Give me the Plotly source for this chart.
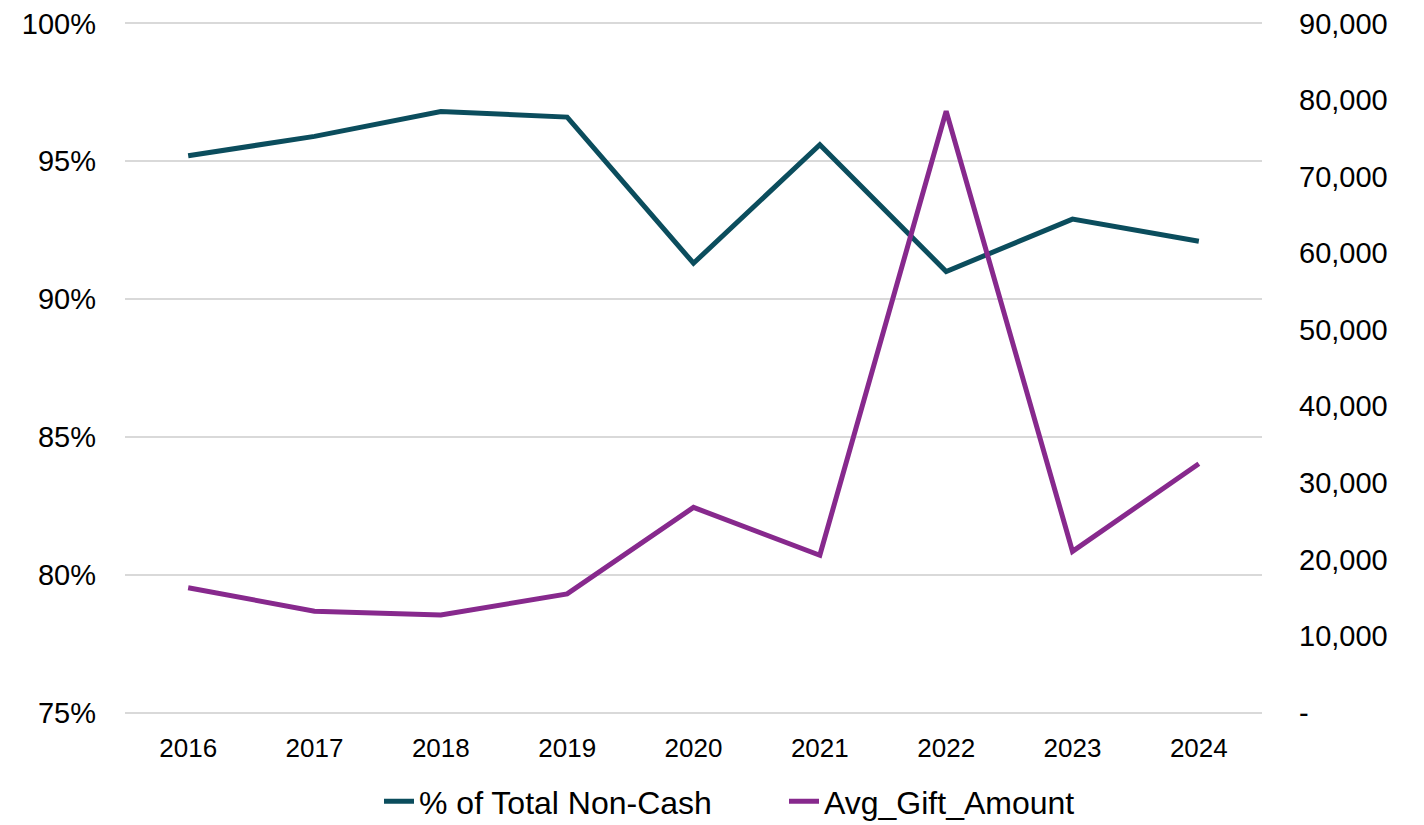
import plotly.graph_objects as go

years = ["2016", "2017", "2018", "2019", "2020", "2021", "2022", "2023", "2024"]
pct_non_cash = [0.952, 0.959, 0.968, 0.966, 0.913, 0.956, 0.910, 0.929, 0.921]
avg_gift = [16300, 13250, 12750, 15500, 26800, 20550, 78550, 21050, 32500]

left_ticks = [0.75, 0.80, 0.85, 0.90, 0.95, 1.00]
left_labels = ["75%", "80%", "85%", "90%", "95%", "100%"]
right_ticks = [0, 10000, 20000, 30000, 40000, 50000, 60000, 70000, 80000, 90000]
right_labels = ["-", "10,000", "20,000", "30,000", "40,000", "50,000", "60,000", "70,000", "80,000", "90,000"]

TEAL = "#0B4D5D"
PURPLE = "#87298D"
FONT = "Liberation Sans, Arial, sans-serif"

pad = 0.002
lo, hi = 0.75, 1.0
r2lo, r2hi = 0, 90000

fig = go.Figure()
fig.add_trace(go.Scatter(x=years, y=pct_non_cash, name="% of Total Non-Cash",
                         mode="lines", line=dict(color=TEAL, width=5), yaxis="y"))
fig.add_trace(go.Scatter(x=years, y=avg_gift, name="Avg_Gift_Amount",
                         mode="lines", line=dict(color=PURPLE, width=5), yaxis="y2"))

fig.update_layout(
    width=1424, height=825,
    margin=dict(l=125, r=162, t=22, b=111, autoexpand=False),
    paper_bgcolor="white", plot_bgcolor="white",
    font=dict(family=FONT, color="black"),
    showlegend=True,
    legend=dict(orientation="h", xref="container", yref="container",
                x=379 / 1424, xanchor="left", y=0.062, yanchor="top",
                font=dict(size=32, family=FONT), itemwidth=30,
                entrywidth=360, entrywidthmode="pixels", traceorder="normal"),
    xaxis=dict(type="category", range=[-0.5, len(years) - 0.5], showgrid=False,
               showline=False, zeroline=False, automargin=False,
               tickfont=dict(size=26), ticks="", ticklabelstandoff=16),
    yaxis=dict(range=[lo - (hi - lo) * pad, hi + (hi - lo) * pad],
               tickvals=left_ticks, ticktext=left_labels, automargin=False,
               showgrid=True, gridcolor="#D9D9D9", gridwidth=1.5, zeroline=False,
               showline=False, tickfont=dict(size=29), ticks="", ticklabelstandoff=28),
    yaxis2=dict(range=[r2lo - (r2hi - r2lo) * pad, r2hi + (r2hi - r2lo) * pad],
                tickvals=right_ticks, ticktext=right_labels, automargin=False,
                overlaying="y", side="right", showgrid=False, zeroline=False,
                showline=False, tickfont=dict(size=29), ticks="", ticklabelstandoff=36),
)

fig.write_html("out.html")
